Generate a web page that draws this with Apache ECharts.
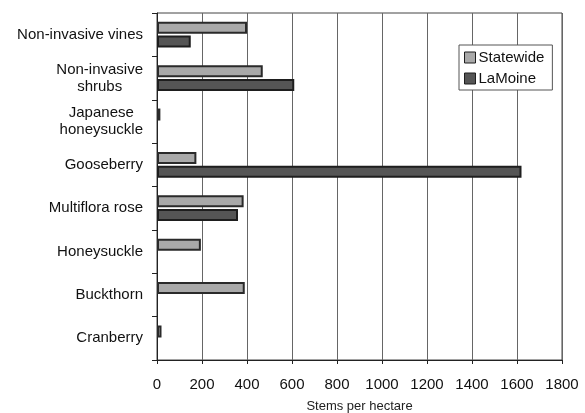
<!DOCTYPE html>
<html>
<head>
<meta charset="utf-8">
<script src="https://cdn.jsdelivr.net/npm/echarts@6/dist/echarts.min.js"></script>
<style>
  html, body { margin: 0; padding: 0; background: #fff; }
  #chart { width: 585px; height: 413px; }
</style>
</head>
<body>
<div id="chart"></div>
<script>
// Plant groups, listed top to bottom
const categories = [
  'Non-invasive vines',
  'Non-invasive\nshrubs',
  'Japanese\nhoneysuckle',
  'Gooseberry',
  'Multiflora rose',
  'Honeysuckle',
  'Buckthorn',
  'Cranberry'
];
// Stems per hectare (null = none recorded)
const statewide = [400, 470, 15, 175, 385, 195, 390, 20];
const lamoine = [150, 610, null, 1620, 360, null, null, null];
const xTicks = [0, 200, 400, 600, 800, 1000, 1200, 1400, 1600, 1800];

const font = '"Liberation Sans", Arial, Helvetica, sans-serif';
const chart = echarts.init(document.getElementById('chart'));

// Each line of a wrapped label is centred within the label block
function centredLines(label) {
  return label.split('\n').map(s => '{c|' + s + '}').join('\n');
}

chart.setOption({
  backgroundColor: '#fff',
  animation: false,
  textStyle: { fontFamily: font },
  grid: {
    left: 157, right: 23, top: 13, bottom: 53,
    outerBoundsMode: 'none', containLabel: false,
    show: true, borderColor: '#444', borderWidth: 1, backgroundColor: 'transparent'
  },
  legend: {
    orient: 'vertical',
    left: 459, top: 45,
    icon: 'rect',
    itemWidth: 11, itemHeight: 11, itemGap: 6,
    padding: [5, 8, 4, 5],
    borderColor: '#555', borderWidth: 1, backgroundColor: '#fff',
    itemStyle: { borderColor: '#1e1e1e', borderWidth: 1 },
    textStyle: { fontFamily: font, fontSize: 15, color: '#111', padding: [0, 0, 0, -2] },
    data: ['Statewide', 'LaMoine']
  },
  xAxis: {
    type: 'value',
    min: xTicks[0], max: xTicks[xTicks.length - 1], interval: 200,
    name: 'Stems per hectare', nameLocation: 'middle', nameGap: 40,
    nameTextStyle: { fontFamily: font, fontSize: 13, color: '#222' },
    axisLine: { show: true, lineStyle: { color: '#222' } },
    axisTick: { show: true, inside: false, length: 4, lineStyle: { color: '#222' } },
    axisLabel: { fontFamily: font, fontSize: 15, color: '#111', margin: 17, formatter: v => String(v) },
    splitLine: { show: true, lineStyle: { color: '#666', width: 1 } }
  },
  yAxis: {
    type: 'category',
    inverse: true,
    data: categories,
    axisLine: { show: true, lineStyle: { color: '#222' } },
    axisTick: { show: true, length: 5, lineStyle: { color: '#222' } },
    axisLabel: {
      fontFamily: font, fontSize: 15, color: '#111', margin: 14, lineHeight: 17,
      formatter: centredLines,
      rich: { c: { fontFamily: font, fontSize: 15, color: '#111', lineHeight: 17, align: 'center' } }
    }
  },
  series: [
    {
      name: 'Statewide', type: 'bar', data: statewide,
      barWidth: 12, barGap: '15%',
      itemStyle: { color: '#a9a9a9', borderColor: '#2a2a2a', borderWidth: 2 }
    },
    {
      name: 'LaMoine', type: 'bar', data: lamoine,
      barWidth: 12,
      itemStyle: { color: '#555', borderColor: '#1e1e1e', borderWidth: 2 }
    }
  ]
});
</script>
</body>
</html>
